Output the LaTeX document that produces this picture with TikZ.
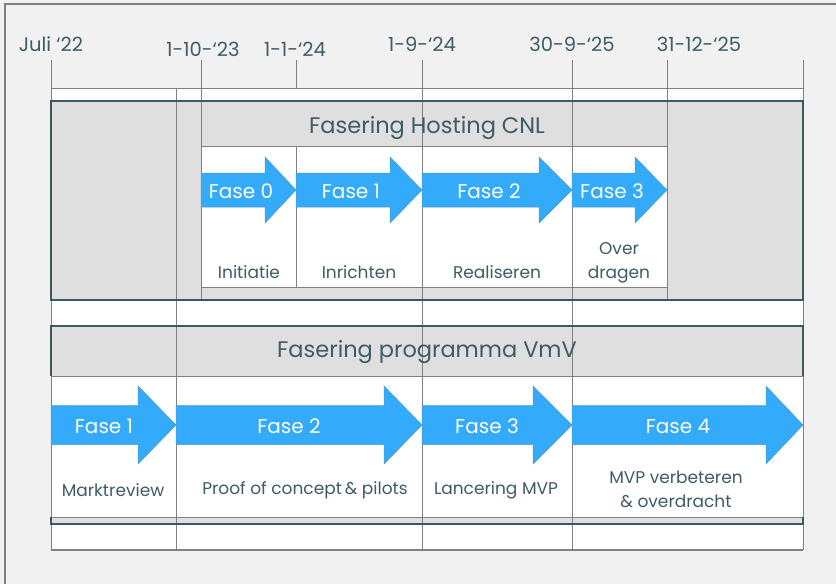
\documentclass[tikz,border=0pt]{standalone}
\usepackage{fontspec}
\setmainfont{Poppins}
\definecolor{achtergrond}{HTML}{F1F1F1}
\definecolor{blokgrijs}{HTML}{DFDFDF}
\definecolor{lijngrijs}{HTML}{808080}
\definecolor{rijteal}{HTML}{3A5A63}
\definecolor{fasblauw}{HTML}{33AAFA}
\definecolor{tekstteal}{HTML}{3E5C66}
\tikzset{
  datum/.style={text=tekstteal, font=\fontsize{19.5}{23}\selectfont, inner sep=0pt},
  kop/.style={text=tekstteal, font=\fontsize{22.5}{26}\selectfont, inner sep=0pt},
  fasepijl/.style={fill=fasblauw, draw=fasblauw!60!lijngrijs, line width=0.5pt},
  fasetekst/.style={text=white, font=\fontsize{20}{23}\selectfont, inner sep=0pt},
  omschrijving/.style={text=tekstteal, font=\fontsize{17}{24}\selectfont, inner sep=0pt, align=center},
  raster/.style={draw=lijngrijs, line width=1pt},
  rijrand/.style={draw=rijteal, line width=1.5pt}
}

\begin{document}
\begin{tikzpicture}[x=1pt, y=-1pt]
	\useasboundingbox (0,0) rectangle (836,584);
	% achtergrond en kader
	\fill[achtergrond] (0,0) rectangle (836,584);
	\draw[lijngrijs, line width=1.5pt] (5,584) -- (5,4) -- (836,4);
	% vlakken
	\fill[white] (51,88) rectangle (803,101);
	\fill[blokgrijs] (51,101) rectangle (803,300);
	\fill[white] (201,146) rectangle (667,287);
	\fill[white] (51,300) rectangle (803,326);
	\fill[blokgrijs] (51,326) rectangle (803,376);
	\fill[white] (51,376) rectangle (803,517);
	\fill[blokgrijs] (51,517) rectangle (803,524);
	\fill[white] (51,524) rectangle (803,550);
	% rasterlijnen
	\draw[raster] (51,60) -- (51,550);
	\draw[raster] (176,88) -- (176,550);
	\draw[raster] (201,60) -- (201,300);
	\draw[raster] (296,60) -- (296,88) (296,146) -- (296,287);
	\draw[raster] (422,60) -- (422,550);
	\draw[raster] (572,60) -- (572,550);
	\draw[raster] (667,60) -- (667,300);
	\draw[raster] (803,60) -- (803,550);
	\draw[raster] (51,88) -- (803,88);
	\draw[raster] (201,146) -- (667,146) (201,287) -- (667,287);
	\draw[raster] (51,376) -- (803,376) (51,517) -- (803,517);
	\draw[raster, line width=1.5pt] (51,550) -- (803,550);
	\draw[rijrand] (51,101) rectangle (803,300);
	\draw[rijrand] (51,376) -- (51,326) -- (803,326) -- (803,376);
	\draw[rijrand] (51,517) -- (51,524) -- (803,524) -- (803,517);
	% datums
	\node[datum] (juli22) at (51,44) {Juli ‘22};
	\node[datum] (okt23) at (203,49) {1-10-‘23};
	\node[datum] (jan24) at (295,49) {1-1-‘24};
	\node[datum] (sep24) at (422,44) {1-9-‘24};
	\node[datum] (sep25) at (572,44) {30-9-‘25};
	\node[datum] (dec25) at (699,44) {31-12-‘25};
	% fasering hosting
	\node[kop] (hosting) at (427,127.5) {Fasering Hosting CNL};
	\fill[fasepijl] (201,173) -- (265,173) -- (265,157) -- (296,190) -- (265,223) -- (265,207) -- (201,207) -- cycle;
	\fill[fasepijl] (296,173) -- (390,173) -- (390,157) -- (422,190) -- (390,223) -- (390,207) -- (296,207) -- cycle;
	\fill[fasepijl] (422,173) -- (539,173) -- (539,157) -- (572,190) -- (539,223) -- (539,207) -- (422,207) -- cycle;
	\fill[fasepijl] (572,173) -- (635,173) -- (635,157) -- (667,190) -- (635,223) -- (635,207) -- (572,207) -- cycle;
	\node[fasetekst] (hfase0) at (241,191) {Fase 0};
	\node[fasetekst] (hfase1) at (351,191) {Fase 1};
	\node[fasetekst] (hfase2) at (489,191) {Fase 2};
	\node[fasetekst] (hfase3) at (612,191) {Fase 3};
	\node[omschrijving] (initiatie) at (249,272) {Initiatie};
	\node[omschrijving] (inrichten) at (359,272) {Inrichten};
	\node[omschrijving] (realiseren) at (497,272) {Realiseren};
	\node[omschrijving] (overdragen) at (619,262.5) {Over\\dragen};
	% fasering programma
	\node[kop] (programma) at (427,351.5) {Fasering programma VmV};
	\fill[fasepijl] (51,405.5) -- (138,405.5) -- (138,386) -- (176,425) -- (138,464) -- (138,444.5) -- (51,444.5) -- cycle;
	\fill[fasepijl] (176,405.5) -- (384,405.5) -- (384,386) -- (422,425) -- (384,464) -- (384,444.5) -- (176,444.5) -- cycle;
	\fill[fasepijl] (422,405.5) -- (533,405.5) -- (533,386) -- (572,425) -- (533,464) -- (533,444.5) -- (422,444.5) -- cycle;
	\fill[fasepijl] (572,405.5) -- (766,405.5) -- (766,386) -- (803,425) -- (766,464) -- (766,444.5) -- (572,444.5) -- cycle;
	\node[fasetekst] (pfase1) at (104,426) {Fase 1};
	\node[fasetekst] (pfase2) at (289,426) {Fase 2};
	\node[fasetekst] (pfase3) at (487,426) {Fase 3};
	\node[fasetekst] (pfase4) at (678,426) {Fase 4};
	\node[omschrijving] (marktreview) at (113,490) {Marktreview};
	\node[omschrijving] (proof) at (305,490) {Proof of concept\,\& pilots};
	\node[omschrijving] (lancering) at (496,490) {Lancering MVP};
	\node[omschrijving] (verbeteren) at (676,489) {MVP verbeteren\\\& overdracht};
\end{tikzpicture}
\end{document}
